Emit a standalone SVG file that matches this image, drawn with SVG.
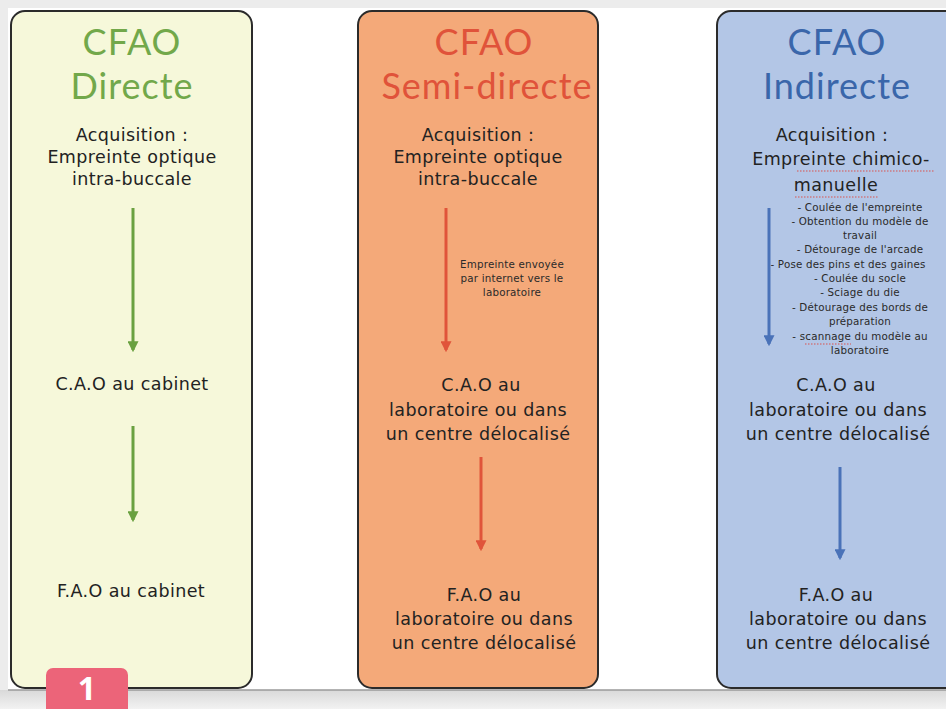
<svg xmlns="http://www.w3.org/2000/svg" width="946" height="709" viewBox="0 0 946 709">
<defs>
<style>
.panel{stroke:#2b2b2b;stroke-width:2}
.t{font-family:"DejaVu Sans","Open Sans",sans-serif;fill:#222;text-anchor:middle}
.title{font-family:Lato,"Open Sans",sans-serif;font-size:36px;letter-spacing:1px}
.body{font-size:17.5px;letter-spacing:0.4px}
.small{font-size:10.3px;letter-spacing:0.2px;fill:#2a2a2a}
.arr{stroke-width:3;fill:none}
.wavy{stroke:#d9534f;stroke-width:1;fill:none;stroke-dasharray:1.5 1.5}
</style>
<marker id="mg" viewBox="0 0 10 10" refX="8" refY="5" markerWidth="11" markerHeight="11" markerUnits="userSpaceOnUse" orient="auto"><path d="M0,0 L10,5 L0,10 Z" fill="#6aa140"/></marker>
<marker id="mr" viewBox="0 0 10 10" refX="8" refY="5" markerWidth="11" markerHeight="11" markerUnits="userSpaceOnUse" orient="auto"><path d="M0,0 L10,5 L0,10 Z" fill="#e0543a"/></marker>
<marker id="mb" viewBox="0 0 10 10" refX="8" refY="5" markerWidth="11" markerHeight="11" markerUnits="userSpaceOnUse" orient="auto"><path d="M0,0 L10,5 L0,10 Z" fill="#4a72b8"/></marker>
<linearGradient id="bottom" x1="0" y1="0" x2="0" y2="1"><stop offset="0" stop-color="#d9d9d9"/><stop offset="1" stop-color="#f2f2f2"/></linearGradient>
</defs>
<rect x="0" y="0" width="946" height="709" fill="#ececec"/>
<rect x="8" y="8" width="938" height="682" fill="#ffffff"/>
<rect x="0" y="690" width="946" height="19" fill="url(#bottom)"/>
<line x1="8" y1="690" x2="946" y2="690" stroke="#9a9a9a" stroke-width="1.5"/>

<g id="panel-directe">
<rect class="panel" x="11" y="11" width="241" height="677" rx="14" fill="#f6f8da"/>
<text class="t title" x="132" y="55" style="fill:#72a84a">CFAO</text>
<text class="t title" x="132" y="99" style="fill:#72a84a">Directe</text>
<text class="t body" x="132" y="141">Acquisition :</text>
<text class="t body" x="132" y="163">Empreinte optique</text>
<text class="t body" x="132" y="185">intra-buccale</text>
<text class="t body" x="132" y="390">C.A.O au cabinet</text>
<text class="t body" x="131" y="597">F.A.O au cabinet</text>
</g>

<g id="panel-semi-directe">
<rect class="panel" x="358" y="11" width="240" height="677" rx="14" fill="#f4a979"/>
<text class="t title" x="484" y="55" style="fill:#e0533a">CFAO</text>
<text class="t title" x="487" y="99" style="fill:#e0533a">Semi-directe</text>
<text class="t body" x="478" y="141">Acquisition :</text>
<text class="t body" x="478" y="163">Empreinte optique</text>
<text class="t body" x="478" y="185">intra-buccale</text>
<text class="t small" x="512" y="268">Empreinte envoyée</text>
<text class="t small" x="512" y="282">par internet vers le</text>
<text class="t small" x="512" y="296">laboratoire</text>
<text class="t body" x="481" y="391">C.A.O au</text>
<text class="t body" x="478" y="416">laboratoire ou dans</text>
<text class="t body" x="478" y="440">un centre délocalisé</text>
<text class="t body" x="484" y="601">F.A.O au</text>
<text class="t body" x="484" y="625">laboratoire ou dans</text>
<text class="t body" x="484" y="649">un centre délocalisé</text>
</g>

<g id="panel-indirecte">
<rect class="panel" x="717" y="11" width="245" height="677" rx="14" fill="#b3c6e6"/>
<text class="t title" x="837" y="55" style="fill:#3a66aa">CFAO</text>
<text class="t title" x="837" y="99" style="fill:#3a66aa">Indirecte</text>
<text class="t body" x="832" y="141">Acquisition :</text>
<text class="t body" x="841" y="165">Empreinte chimico-</text>
<text class="t body" x="836" y="191">manuelle</text>
<path class="wavy" d="M797,171 H934"/>
<path class="wavy" d="M795,197 H879"/>
<g class="t small">
<text x="860" y="211">- Coulée de l'empreinte</text>
<text x="860" y="225">- Obtention du modèle de</text>
<text x="860" y="239">travail</text>
<text x="860" y="253">- Détourage de l'arcade</text>
<text x="848" y="268">- Pose des pins et des gaines</text>
<text x="860" y="282">- Coulée du socle</text>
<text x="860" y="296">- Sciage du die</text>
<text x="860" y="311">- Détourage des bords de</text>
<text x="860" y="325">préparation</text>
<text x="860" y="340">- scannage du modèle au</text>
<text x="860" y="354">laboratoire</text>
</g>
<path class="wavy" d="M805,344 H851"/>
<text class="t body" x="836" y="391">C.A.O au</text>
<text class="t body" x="838" y="416">laboratoire ou dans</text>
<text class="t body" x="838" y="440">un centre délocalisé</text>
<text class="t body" x="836" y="601">F.A.O au</text>
<text class="t body" x="838" y="625">laboratoire ou dans</text>
<text class="t body" x="838" y="649">un centre délocalisé</text>
</g>

<g id="connectors">
<line class="arr" x1="133" y1="208" x2="133" y2="350" stroke="#6aa140" marker-end="url(#mg)"/>
<line class="arr" x1="133" y1="426" x2="133" y2="520" stroke="#6aa140" marker-end="url(#mg)"/>
<line class="arr" x1="446" y1="208" x2="446" y2="350" stroke="#e0543a" marker-end="url(#mr)"/>
<line class="arr" x1="481" y1="457" x2="481" y2="549" stroke="#e0543a" marker-end="url(#mr)"/>
<line class="arr" x1="769" y1="208" x2="769" y2="344" stroke="#4a72b8" marker-end="url(#mb)"/>
<line class="arr" x1="840" y1="467" x2="840" y2="558" stroke="#4a72b8" marker-end="url(#mb)"/>
</g>

<g id="badge">
<rect x="46" y="668" width="82" height="50" rx="7" fill="#ec6479"/>
<text x="87" y="700" font-family="Open Sans, Liberation Sans, sans-serif" font-size="32" font-weight="bold" fill="#ffffff" text-anchor="middle">1</text>
</g>
</svg>
